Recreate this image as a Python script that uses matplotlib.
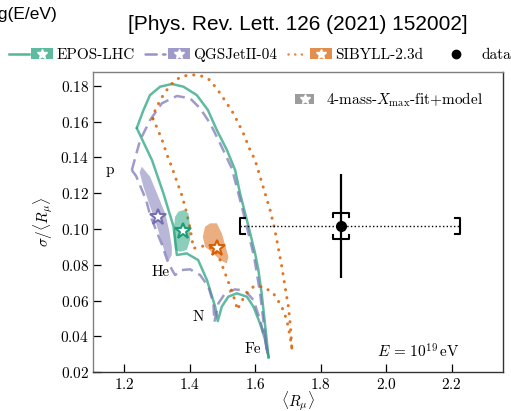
import numpy as np
import matplotlib
matplotlib.use('Agg')
import matplotlib.pyplot as plt
from matplotlib.lines import Line2D
from matplotlib.patches import Rectangle
from matplotlib.legend_handler import HandlerBase

plt.rcParams['font.family'] = 'serif'
plt.rcParams['font.serif'] = ['cmr10']
plt.rcParams['mathtext.fontset'] = 'cm'
plt.rcParams['axes.formatter.use_mathtext'] = True

# ---- data ----
# boundaries of p-He-N-Fe mixtures: outer = p..Fe, inner = p-He-N-Fe
epos_outer_x = [1.239, 1.259, 1.279, 1.310, 1.346, 1.381, 1.422, 1.456, 1.483, 1.514,
                1.539, 1.554, 1.580, 1.600, 1.610, 1.620, 1.631, 1.641]
epos_outer_y = [0.1566, 0.1664, 0.1748, 0.1795, 0.1810, 0.1795, 0.1748, 0.1664, 0.1553, 0.1441,
                0.1329, 0.1199, 0.1013, 0.0864, 0.0771, 0.0641, 0.0455, 0.0284]
epos_inner_x = [1.239, 1.285, 1.320, 1.351, 1.361, 1.391, 1.426, 1.453, 1.478, 1.486,
                1.498, 1.518, 1.544, 1.575, 1.595, 1.615, 1.631, 1.641]
epos_inner_y = [0.1562, 0.1385, 0.1199, 0.1013, 0.0855, 0.0864, 0.0827, 0.0715, 0.0566, 0.0486,
                0.0566, 0.0622, 0.0641, 0.0622, 0.0566, 0.0473, 0.0380, 0.0284]

qgs_outer_x = [1.2235, 1.2489, 1.2794, 1.3151, 1.3609, 1.4015, 1.4321, 1.4626, 1.4931, 1.5289,
               1.549, 1.5747, 1.5969, 1.6153, 1.6275, 1.6376]
qgs_outer_y = [0.1329, 0.1497, 0.1609, 0.1702, 0.1743, 0.1730, 0.1674, 0.1590, 0.1478, 0.1339,
               0.1199, 0.1013, 0.0845, 0.0641, 0.0455, 0.0306]
qgs_inner_x = [1.2235, 1.2366, 1.2519, 1.2672, 1.2794, 1.2977, 1.3160, 1.3313, 1.3466, 1.3557,
               1.3762, 1.4015, 1.4321, 1.4574, 1.4727, 1.4757,
               1.4879, 1.5084, 1.5389, 1.5695, 1.5948, 1.6153, 1.6305, 1.6376]
qgs_inner_y = [0.1329, 0.1296, 0.1229, 0.1162, 0.1078, 0.0994, 0.0911, 0.0827, 0.0771, 0.0743,
               0.0771, 0.0775, 0.0743, 0.0678, 0.0585, 0.0482,
               0.0585, 0.0641, 0.0663, 0.0656, 0.0604, 0.0492, 0.0380, 0.0306]

sib_outer_x = [1.2876, 1.2947, 1.3099, 1.3252, 1.3457, 1.3710, 1.4015, 1.4321, 1.4626, 1.4931,
               1.5136, 1.5337, 1.5490, 1.5643, 1.5847, 1.6000, 1.6153, 1.6305, 1.6458, 1.6580,
               1.6663, 1.6815, 1.6931, 1.7017, 1.7084, 1.7121]
sib_outer_y = [0.1616, 0.1663, 0.1719, 0.1765, 0.1811, 0.1849, 0.1862, 0.1858, 0.1832, 0.1758,
               0.1702, 0.1646, 0.1590, 0.1534, 0.1441, 0.1385, 0.1292, 0.1199, 0.1106, 0.1013,
               0.0939, 0.0790, 0.0659, 0.0566, 0.0447, 0.0334]
sib_inner_x = [1.2876, 1.3008, 1.3160, 1.3313, 1.3466, 1.3618, 1.3771, 1.3893, 1.4000, 1.4076, 1.4116,
               1.4421, 1.4727, 1.4931, 1.5084, 1.5237, 1.5359, 1.5466,
               1.5542, 1.5747, 1.5948, 1.6253, 1.6559, 1.6815, 1.6968, 1.7069, 1.7121]
sib_inner_y = [0.1616, 0.1564, 0.1497, 0.1413, 0.1341, 0.1262, 0.1184, 0.1101, 0.1017, 0.0939, 0.0892,
               0.0905, 0.0892, 0.0827, 0.0753, 0.0678, 0.0615, 0.0548,
               0.0585, 0.0641, 0.0678, 0.0678, 0.0641, 0.0566, 0.0492, 0.0399, 0.0334]

# 4-mass Xmax fit + model regions and best points
epos_blob_x = [1.3811, 1.3963, 1.4015, 1.4015, 1.3914, 1.3710, 1.3557, 1.3505, 1.3557, 1.3658]
epos_blob_y = [0.1106, 0.1088, 0.1013, 0.0939, 0.0883, 0.0873, 0.0883, 0.0976, 0.1069, 0.1097]
qgs_blob_x = [1.2540, 1.2794, 1.3047, 1.3252, 1.3374, 1.3457, 1.3457, 1.3353, 1.3221, 1.3008,
              1.2794, 1.2589, 1.2473]
qgs_blob_y = [0.1348, 0.1292, 0.1180, 0.1088, 0.0994, 0.0901, 0.0855, 0.0821, 0.0883, 0.1013,
              0.1125, 0.1236, 0.1318]
sib_blob_x = [1.4626, 1.4831, 1.4983, 1.5084, 1.5185, 1.5136, 1.4931, 1.4727, 1.4473, 1.4403, 1.4473]
sib_blob_y = [0.1032, 0.1032, 0.0976, 0.0911, 0.0845, 0.0808, 0.0827, 0.0864, 0.0901, 0.0957, 0.1013]
star_x = [1.381, 1.3047, 1.483]
star_y = [0.0989, 0.1065, 0.0892]

# measurement
data_x, data_y = 1.863, 0.1017
data_stat_y = 0.029
data_syst_y = 0.0073
data_syst_x = (0.309, 0.363)

primaries = ['p', 'He', 'N', 'Fe']
primary_x = [1.157, 1.310, 1.426, 1.592]
primary_y = [0.1329, 0.0760, 0.0509, 0.0327]

model_names = ['EPOS-LHC', 'QGSJetII-04', 'SIBYLL-2.3d']
model_colors = ['#1b9e77', '#7570b3', '#d95f02']
model_ls = ['-', (0, (4.5, 2.5)), (0, (0.05, 2.6))]


class ModelKey:
    def __init__(self, color, ls):
        self.color = color
        self.ls = ls


class ModelHandler(HandlerBase):
    def create_artists(self, legend, orig_handle, xdescent, ydescent, width, height, fontsize, trans):
        yc = (height - ydescent) / 2
        arts = []
        if orig_handle.ls is not None:
            arts.append(Line2D([-xdescent, -xdescent + 0.44 * width], [yc, yc],
                               color=orig_handle.color, ls=orig_handle.ls, lw=1.8, alpha=0.75,
                               dash_capstyle='round'))
            x0 = -xdescent + 0.5 * width
            pw = 0.5 * width
        else:
            x0 = -xdescent
            pw = width
        arts.append(Rectangle((x0, -ydescent), pw, height, fc=orig_handle.color,
                              ec='none', alpha=0.7))
        arts.append(Line2D([x0 + pw / 2], [yc], marker='*', ms=7, mfc='white',
                           mec='white', ls='none'))
        for a in arts:
            a.set_transform(trans)
        return arts


fig = plt.figure(figsize=(5.11, 4.11), dpi=100)
ax = fig.add_axes([0.1814, 0.0942, 0.8029, 0.7306])

curves = [(epos_outer_x, epos_outer_y, epos_inner_x, epos_inner_y),
          (qgs_outer_x, qgs_outer_y, qgs_inner_x, qgs_inner_y),
          (sib_outer_x, sib_outer_y, sib_inner_x, sib_inner_y)]
blobs = [(epos_blob_x, epos_blob_y), (qgs_blob_x, qgs_blob_y), (sib_blob_x, sib_blob_y)]
alphas = [0.7, 0.7, 0.85]
widths = [1.8, 1.8, 2.2]

for i, (ox, oy, ix, iy) in enumerate(curves):
    for xs, ys in [(ox, oy), (ix, iy)]:
        ax.plot(xs, ys, color=model_colors[i], ls=model_ls[i], lw=widths[i],
                alpha=alphas[i], dash_capstyle='round' if i == 2 else 'butt',
                solid_joinstyle='round', zorder=2)
    ax.fill(blobs[i][0], blobs[i][1], color=model_colors[i], alpha=0.5, lw=0, zorder=3)
    ax.plot(star_x[i], star_y[i], marker='*', ms=12, mfc='white', mec=model_colors[i],
            mew=1.5, ls='none', zorder=4)

# data point with systematic brackets
xlo = data_x - data_syst_x[0]
xhi = data_x + data_syst_x[1]
ax.plot([xlo, xhi], [data_y, data_y], color='black', ls=':', lw=1.0, zorder=5)
bh = 0.0045
bw = 0.014
ax.plot([xlo + bw, xlo, xlo, xlo + bw], [data_y - bh, data_y - bh, data_y + bh, data_y + bh],
        color='black', lw=1.5, zorder=5)
ax.plot([xhi - bw, xhi, xhi, xhi - bw], [data_y - bh, data_y - bh, data_y + bh, data_y + bh],
        color='black', lw=1.5, zorder=5)
cw = 0.024
ch = 0.0022
for s in [1, -1]:
    yb = data_y + s * data_syst_y
    ax.plot([data_x - cw, data_x - cw, data_x + cw, data_x + cw],
            [yb - s * ch, yb, yb, yb - s * ch], color='black', lw=1.5, zorder=5)
ax.errorbar(data_x, data_y, yerr=data_stat_y, fmt='o', color='black', ms=7,
            elinewidth=1.6, capsize=0, zorder=6)

for name, px, py in zip(primaries, primary_x, primary_y):
    ax.text(px, py, name, fontsize=11, ha='center', va='center')

ax.text(0.895, 0.068, r'$E\,=\,10^{19}\,\mathrm{eV}$', transform=ax.transAxes,
        ha='right', va='center', fontsize=11)

ax.set_xlim(1.104, 2.357)
ax.set_ylim(0.02, 0.1877)
ax.set_xticks([1.2, 1.4, 1.6, 1.8, 2.0, 2.2])
ax.set_yticks([0.02, 0.04, 0.06, 0.08, 0.10, 0.12, 0.14, 0.16, 0.18])
ax.tick_params(axis='x', direction='in', length=5.5, width=0.9, labelsize=11, pad=3.5)
ax.tick_params(axis='y', direction='in', length=5.5, width=0.9, labelsize=11, pad=2.5)
ax.set_xlabel(r'$\langle R_\mu \rangle$', fontsize=11, labelpad=-2)
ax.set_ylabel(r'$\sigma/\langle R_\mu \rangle$', fontsize=11, labelpad=4)
for side in ['left', 'top']:
    ax.spines[side].set_color('0.5')
for side in ['right', 'bottom']:
    ax.spines[side].set_color('0.2')
for side in ax.spines:
    ax.spines[side].set_linewidth(1.0)

# inner legend
ax.legend([ModelKey('0.45', None)], [r'4-mass-$X_{\rm max}$-fit+model'],
          handler_map={ModelKey: ModelHandler()}, loc='upper right',
          bbox_to_anchor=(0.985, 0.985), frameon=False, fontsize=11,
          handlelength=1.2, handletextpad=0.8)

# top legend
handles = [ModelKey(c, l) for c, l in zip(model_colors, model_ls)]
handles.append(Line2D([], [], color='black', marker='o', ms=6, ls='none'))
fig.legend(handles, model_names + ['data'], handler_map={ModelKey: ModelHandler()},
           loc='center', bbox_to_anchor=(0.509, 1 - 55 / 411), ncol=4, frameon=False,
           fontsize=11, handlelength=2.9, handletextpad=0.2, columnspacing=0.7)

fig.text(58 / 511, 1 - 15 / 411, 'lg(E/eV)', ha='right', va='center', fontsize=12.5,
         family='Liberation Sans')
fig.text(298 / 511, 1 - 24 / 411, '[Phys. Rev. Lett. 126 (2021) 152002]', ha='center',
         va='center', fontsize=15, family='Liberation Sans')

fig.savefig('out.png', dpi=100)
